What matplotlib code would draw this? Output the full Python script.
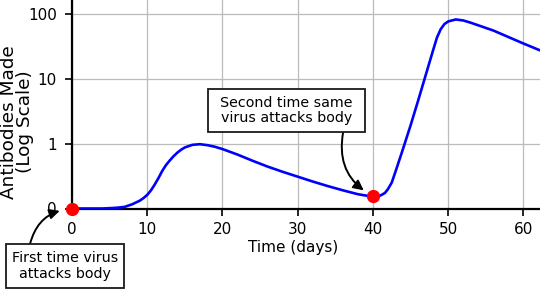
#!/usr/bin/env python3
"""
Antibody response to a first and a second virus attack, on a log scale.
"""

import matplotlib
matplotlib.use("Agg")
import matplotlib.pyplot as plt
from matplotlib.patches import Rectangle


OUTPUT_FILE = "out.png"

# Time in days and antibody level in decades (0 -> "0", 1 -> "1", 2 -> "10", 3 -> "100")
days = [0, 2, 4, 5, 6, 7, 8, 9, 9.5, 10, 10.5, 11, 11.5, 12, 12.5, 13, 13.5,
        14, 14.5, 15, 16, 17, 18, 19, 20, 22, 24, 26, 28, 30, 32, 34, 36, 38,
        39, 40, 41, 41.6, 42, 42.5, 43, 44, 45, 46, 47, 48, 48.5, 49, 49.5,
        50, 51, 52, 53, 54, 56, 58, 60, 62.3]
level = [0, 0, 0, 0.005, 0.012, 0.025, 0.065, 0.12, 0.16, 0.21, 0.28, 0.37,
         0.47, 0.58, 0.67, 0.74, 0.805, 0.86, 0.905, 0.94, 0.98, 0.99, 0.975,
         0.95, 0.915, 0.83, 0.735, 0.645, 0.565, 0.49, 0.415, 0.345, 0.28,
         0.22, 0.2, 0.185, 0.2, 0.24, 0.3, 0.4, 0.57, 0.92, 1.28, 1.66, 2.05,
         2.44, 2.63, 2.76, 2.84, 2.88, 2.91, 2.895, 2.86, 2.82, 2.74, 2.64,
         2.54, 2.43]

# Virus attacks
attack_days = [0, 40]
attack_level = [0, 0.185]

y_ticks = [0, 1, 2, 3]
y_tick_labels = ["0", "1", "10", "100"]
x_ticks = [0, 10, 20, 30, 40, 50, 60]

W, H = 540, 290


def px(x, y):
    """Pixel position (from top-left) to figure fraction."""
    return x / W, 1 - y / H


def add_box(fig, x0, y0, x1, y1, text):
    fx0, fy1 = px(x0, y1)
    fig.patches.append(Rectangle((fx0, fy1), (x1 - x0) / W, (y1 - y0) / H,
                                 transform=fig.transFigure, facecolor="white",
                                 edgecolor="#1a1a1a", linewidth=1.3, zorder=5))
    cx, cy = px((x0 + x1) / 2, (y0 + y1) / 2)
    fig.text(cx, cy, text, ha="center", va="center", fontsize=10.3,
             linespacing=1.15, zorder=6)


def main():
    fig = plt.figure(figsize=(W / 100, H / 100), dpi=100)
    ax = fig.add_axes([72 / W, 81.5 / H, 468 / W, 208.5 / H])

    ax.plot(days, level, color="#0000ff", linewidth=1.9, zorder=3)
    ax.plot(attack_days, attack_level, "o", color="#ff0000", markersize=8.5,
            clip_on=False, zorder=4)

    ax.set_xlim(0, 62.2)
    ax.set_ylim(0, 3.21)
    ax.set_xticks(x_ticks)
    ax.set_yticks(y_ticks)
    ax.set_yticklabels(y_tick_labels)

    ax.grid(True, color="#bbbbbb", linewidth=0.9)
    ax.set_axisbelow(True)

    for side in ("top", "right"):
        ax.spines[side].set_visible(False)
    for side in ("left", "bottom"):
        ax.spines[side].set_linewidth(1.6)
        ax.spines[side].set_color("black")

    ax.tick_params(axis="both", length=5, width=1.2, labelsize=11)
    ax.tick_params(axis="y", pad=6)
    ax.tick_params(axis="x", pad=4.5)

    ax.set_xlabel("Time (days)", fontsize=11)
    ax.xaxis.label.set_va("center")
    ax.xaxis.set_label_coords(0.472, -0.185)

    ax.set_ylabel("Antibodies Made\n(Log Scale)", fontsize=13.3, linespacing=0.92)
    ax.yaxis.label.set_va("center")
    ax.yaxis.set_label_coords(-0.1175, 0.415)

    # Callout boxes
    add_box(fig, 6, 244, 124, 288, "First time virus\nattacks body")
    add_box(fig, 208, 89, 365, 132, "Second time same\nvirus attacks body")

    ax.annotate("", xy=(attack_days[0], attack_level[0]), xycoords="data",
                xytext=px(30, 244), textcoords="figure fraction",
                arrowprops=dict(arrowstyle="-|>,head_length=0.6,head_width=0.3",
                                connectionstyle="arc3,rad=-0.35", color="black",
                                linewidth=1.4, shrinkA=0, shrinkB=9),
                annotation_clip=False)
    ax.annotate("", xy=(attack_days[1], attack_level[1]), xycoords="data",
                xytext=px(343, 133), textcoords="figure fraction",
                arrowprops=dict(arrowstyle="-|>,head_length=0.6,head_width=0.3",
                                connectionstyle="arc3,rad=0.35", color="black",
                                linewidth=1.4, shrinkA=0, shrinkB=8),
                annotation_clip=False)

    fig.savefig(OUTPUT_FILE, dpi=100)
    plt.close(fig)


if __name__ == "__main__":
    main()
